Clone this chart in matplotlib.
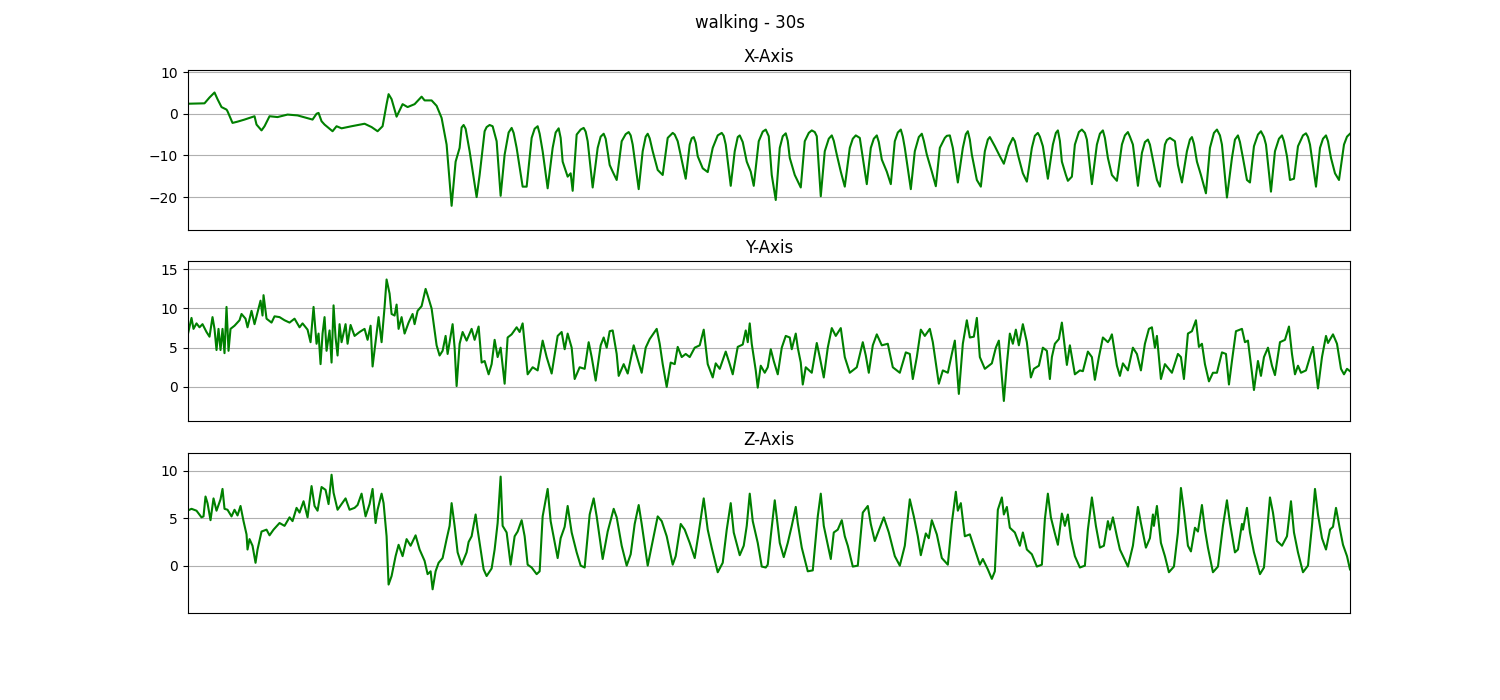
import matplotlib
matplotlib.use("Agg")
import matplotlib.pyplot as plt

title = "walking - 30s"
axis_titles = ["X-Axis", "Y-Axis", "Z-Axis"]
n_samples = 1162

# (sample index, acceleration)
x_axis = [(0,2.4),(17,2.5),(22,3.9),(27,5.1),(30,3.5),(34,1.6),(39,1.0),(40,0.6),(45,-2.2),(50,-1.9),(57,-1.4),(67,-0.6),(69,-2.6),(74,-4.0),(77,-3.0),(82,-0.6),(90,-0.8),(100,-0.2),(110,-0.4),(119,-1.0),(125,-1.4),(129,0.0),(131,0.2),(134,-1.8),(137,-2.6),(145,-4.2),(149,-3.0),(154,-3.5),(164,-3.0),(177,-2.4),(184,-3.2),(190,-4.2),(195,-3.0),(199,2.3),(201,4.7),(204,3.5),(209,-0.7),(215,2.3),(220,1.6),(227,2.3),(234,4.1),(237,3.2),(244,3.2),(249,1.9),(254,-1.0),(259,-7.4),(264,-22.1),(268,-11.5),(272,-8.2),(274,-3.3),(276,-2.7),(278,-3.6),(282,-9.0),(289,-20.0),(292,-14.7),(297,-4.2),(299,-3.2),(302,-2.7),(305,-3.0),(309,-6.6),(313,-19.7),(317,-9.8),(321,-4.5),(324,-3.4),(326,-4.6),(329,-8.2),(335,-17.5),(339,-17.5),(344,-5.8),(347,-3.6),(350,-3.0),(352,-4.8),(355,-9.0),(360,-17.9),(365,-8.2),(368,-4.5),(371,-3.5),(373,-5.8),(375,-11.5),(380,-15.1),(383,-14.3),(385,-18.5),(389,-5.0),(393,-3.8),(396,-3.4),(398,-4.3),(400,-6.6),(405,-17.7),(410,-8.2),(413,-5.5),(416,-4.8),(418,-6.0),(422,-12.3),(425,-13.9),(429,-15.9),(434,-6.6),(438,-4.9),(441,-4.4),(443,-5.2),(445,-7.4),(451,-18.1),(455,-9.0),(458,-5.5),(460,-4.8),(462,-5.9),(465,-9.0),(470,-13.5),(475,-14.7),(480,-5.8),(485,-4.6),(487,-5.0),(490,-6.6),(498,-15.6),(502,-7.4),(504,-5.9),(506,-5.6),(508,-7.0),(510,-10.2),(515,-13.1),(520,-14.0),(525,-8.2),(530,-5.2),(534,-4.6),(536,-5.3),(538,-7.4),(543,-17.3),(547,-9.0),(550,-5.6),(552,-5.2),(555,-6.8),(559,-11.5),(563,-13.9),(566,-17.3),(571,-6.6),(575,-4.3),(578,-3.8),(581,-5.4),(584,-14.7),(588,-20.7),(592,-8.2),(595,-5.4),(598,-4.7),(600,-6.5),(602,-10.6),(607,-14.7),(613,-17.7),(617,-6.6),(621,-4.6),(624,-4.0),(627,-4.4),(629,-5.4),(633,-19.8),(637,-9.0),(641,-6.0),(644,-5.2),(646,-6.5),(649,-9.8),(653,-13.9),(657,-17.5),(662,-8.2),(665,-6.0),(668,-5.2),(672,-5.8),(679,-16.9),(683,-8.2),(686,-6.0),(689,-5.2),(691,-6.8),(694,-11.0),(699,-13.9),(703,-16.9),(707,-6.6),(710,-4.5),(713,-3.8),(715,-5.5),(717,-8.2),(723,-18.1),(727,-9.0),(731,-5.6),(734,-4.8),(736,-6.5),(739,-9.8),(744,-13.9),(748,-17.4),(752,-8.2),(757,-5.8),(759,-5.3),(762,-5.2),(765,-8.2),(770,-16.5),(775,-8.2),(778,-4.9),(780,-4.2),(782,-6.2),(784,-9.8),(789,-15.9),(793,-17.5),(797,-9.0),(800,-6.2),(802,-5.6),(807,-7.8),(812,-10.2),(816,-12.0),(821,-7.8),(825,-5.8),(827,-6.6),(830,-9.8),(835,-14.3),(839,-16.3),(844,-8.2),(847,-5.3),(850,-4.6),(852,-5.5),(855,-7.8),(860,-15.6),(865,-7.4),(868,-4.6),(870,-4.0),(872,-6.5),(874,-11.5),(878,-14.7),(880,-16.1),(884,-15.1),(887,-7.4),(891,-4.4),(894,-3.8),(897,-4.6),(899,-6.2),(904,-16.9),(909,-7.4),(912,-4.8),(915,-4.0),(917,-5.8),(920,-10.6),(924,-14.7),(929,-16.1),(934,-7.4),(937,-5.2),(940,-4.4),(942,-5.5),(945,-7.4),(950,-17.3),(954,-9.4),(957,-6.8),(960,-6.2),(962,-7.4),(965,-11.0),(969,-15.9),(972,-17.5),(977,-7.4),(979,-6.3),(982,-5.8),(987,-6.6),(990,-12.3),(994,-16.5),(999,-9.0),(1002,-6.2),(1004,-5.6),(1006,-7.2),(1009,-11.5),(1013,-14.7),(1018,-19.1),(1022,-8.2),(1026,-4.6),(1029,-3.8),(1032,-5.2),(1034,-7.4),(1039,-20.1),(1044,-10.6),(1047,-6.2),(1050,-5.2),(1052,-6.8),(1055,-10.6),(1059,-15.9),(1062,-16.5),(1066,-7.8),(1070,-5.0),(1073,-4.2),(1076,-5.6),(1078,-7.4),(1083,-18.7),(1087,-9.0),(1091,-6.0),(1094,-5.2),(1096,-6.6),(1099,-10.2),(1102,-15.9),(1106,-15.6),(1110,-7.8),(1115,-5.2),(1118,-4.7),(1120,-5.6),(1122,-7.4),(1128,-17.5),(1132,-8.2),(1135,-6.0),(1138,-5.2),(1140,-6.6),(1143,-10.6),(1147,-14.3),(1151,-15.9),(1156,-7.4),(1159,-5.5),(1162,-4.8)]

y_axis = [(0,6.5),(4,8.8),(6,7.4),(9,8.1),(12,7.6),(15,8.0),(19,7.0),(22,6.4),(25,8.9),(27,7.4),(29,4.7),(31,7.4),(33,4.7),(35,7.4),(37,4.3),(39,10.2),(41,4.6),(43,7.4),(47,7.8),(52,8.5),(54,9.3),(58,8.7),(60,7.6),(64,9.7),(67,8.0),(70,9.5),(73,11.0),(75,9.1),(76,11.7),(79,8.7),(84,8.2),(87,9.0),(92,8.9),(97,8.5),(102,8.2),(107,8.7),(112,7.6),(115,8.1),(120,7.3),(123,5.7),(126,10.2),(129,5.5),(131,6.8),(133,2.9),(135,6.8),(137,8.9),(139,4.6),(142,7.2),(144,3.1),(146,10.4),(148,6.3),(150,4.0),(152,8.0),(154,5.7),(158,8.0),(160,5.5),(163,7.9),(167,6.5),(172,7.0),(177,7.4),(180,6.0),(183,7.8),(185,2.6),(189,6.8),(191,8.9),(194,5.7),(197,10.2),(199,13.7),(202,11.9),(204,9.3),(207,9.1),(209,10.5),(211,7.4),(214,8.9),(217,6.8),(221,8.2),(225,9.3),(227,8.0),(230,9.7),(234,10.3),(238,12.5),(240,11.7),(244,10.0),(249,5.3),(252,4.0),(255,4.6),(258,6.5),(260,4.2),(265,8.0),(267,5.0),(269,0.1),(272,5.5),(275,7.0),(279,5.9),(284,7.4),(287,6.0),(291,7.7),(294,3.1),(297,3.3),(301,1.6),(304,2.9),(307,6.0),(310,3.8),(313,5.0),(317,0.4),(320,6.3),(324,6.7),(329,7.6),(332,7.0),(335,8.1),(340,1.6),(345,2.5),(350,2.1),(355,5.9),(359,3.8),(364,1.7),(370,6.5),(374,7.0),(377,4.8),(380,6.8),(384,5.0),(387,1.0),(392,2.5),(397,2.3),(401,5.7),(404,3.8),(408,0.8),(413,5.3),(416,6.3),(419,5.0),(422,7.1),(425,7.2),(429,4.2),(431,1.4),(436,2.9),(440,1.7),(446,5.3),(450,3.5),(454,1.8),(458,5.0),(462,6.1),(469,7.4),(472,5.5),(475,2.9),(479,0.0),(483,3.1),(487,2.9),(490,5.1),(494,3.8),(498,4.2),(502,3.8),(507,5.0),(512,5.3),(516,7.3),(520,2.9),(525,1.2),(528,3.0),(532,2.3),(538,4.5),(542,2.9),(545,1.6),(550,5.1),(555,5.4),(558,7.2),(560,5.7),(562,8.1),(564,5.5),(568,2.1),(570,-0.1),(573,2.7),(577,1.8),(580,2.5),(583,4.8),(586,3.3),(590,1.6),(594,5.0),(598,6.5),(602,6.3),(604,4.8),(608,6.8),(610,5.0),(613,3.1),(615,0.3),(618,2.5),(624,1.8),(629,5.6),(632,3.8),(636,1.2),(640,5.0),(644,7.5),(648,6.5),(653,7.5),(657,3.8),(662,1.8),(669,2.5),(675,5.7),(678,4.0),(681,1.8),(685,5.3),(689,6.7),(694,5.3),(700,5.5),(705,2.5),(712,1.8),(718,4.4),(722,4.2),(725,1.0),(729,3.8),(733,7.3),(737,6.5),(742,7.4),(745,5.7),(751,0.4),(755,2.1),(760,1.8),(764,4.2),(767,5.9),(771,-0.9),(775,5.5),(779,8.5),(782,6.3),(786,6.4),(789,8.8),(792,3.8),(797,2.3),(804,3.0),(808,5.0),(811,5.9),(816,-1.8),(819,2.9),(822,6.8),(825,5.5),(828,7.3),(831,5.3),(835,8.0),(839,5.7),(843,1.2),(846,2.3),(851,2.7),(855,5.0),(859,4.6),(862,1.0),(864,3.8),(867,5.5),(871,6.1),(874,8.2),(877,5.0),(879,2.8),(882,5.3),(887,1.6),(892,2.1),(895,2.0),(900,4.5),(904,3.8),(907,0.9),(911,3.8),(915,6.3),(920,5.7),(922,6.1),(924,6.7),(929,2.7),(932,1.4),(935,3.0),(940,2.1),(945,5.0),(949,4.2),(953,2.1),(957,5.5),(961,7.4),(964,7.6),(967,5.0),(969,6.5),(973,1.0),(977,2.9),(984,1.8),(990,4.2),(993,3.8),(996,1.0),(1000,6.8),(1004,7.1),(1008,8.5),(1011,5.1),(1014,5.5),(1017,2.9),(1021,0.7),(1025,1.8),(1029,1.8),(1034,4.4),(1038,4.2),(1041,0.3),(1044,3.3),(1048,7.1),(1054,7.4),(1057,5.7),(1060,5.9),(1064,1.8),(1066,-0.4),(1070,3.3),(1073,1.4),(1076,3.8),(1080,5.0),(1084,2.7),(1087,1.5),(1092,5.7),(1097,6.0),(1101,7.7),(1104,4.2),(1107,1.6),(1110,2.7),(1113,1.8),(1118,2.1),(1122,3.8),(1125,5.1),(1130,-0.2),(1134,3.8),(1138,6.5),(1140,5.6),(1145,6.7),(1149,5.5),(1153,2.3),(1156,1.6),(1159,2.3),(1162,2.0)]

z_axis = [(0,5.8),(4,6.0),(9,5.8),(14,5.1),(16,5.2),(18,7.3),(20,6.6),(23,4.8),(26,7.1),(29,5.8),(33,7.0),(35,8.1),(37,6.0),(40,5.9),(44,5.2),(47,5.9),(50,5.3),(53,6.3),(56,4.7),(59,3.3),(60,1.7),(62,2.8),(65,2.1),(68,0.3),(70,1.7),(74,3.6),(79,3.8),(82,3.2),(86,3.8),(92,4.5),(97,4.2),(102,5.1),(105,4.7),(109,6.1),(112,5.6),(116,6.8),(120,5.1),(124,8.4),(127,6.3),(130,5.8),(134,8.3),(138,8.0),(141,6.5),(144,9.6),(146,7.7),(150,5.9),(154,6.5),(158,7.1),(162,5.9),(167,6.1),(170,6.4),(174,7.6),(178,5.2),(182,6.5),(185,8.1),(188,4.5),(190,5.9),(194,7.6),(196,6.6),(199,3.1),(201,-2.0),(204,-1.1),(208,1.0),(211,2.2),(215,1.0),(219,2.8),(223,2.1),(228,3.2),(232,1.7),(237,0.5),(240,-0.9),(243,-0.6),(245,-2.5),(248,-0.6),(251,0.3),(255,0.8),(259,2.8),(262,4.2),(264,6.6),(267,4.2),(270,1.4),(274,0.1),(279,1.4),(281,2.5),(284,3.1),(288,5.4),(290,3.8),(293,1.7),(296,-0.4),(299,-1.1),(304,-0.3),(307,1.7),(310,4.5),(313,9.4),(315,4.2),(319,3.5),(323,0.1),(327,3.1),(330,3.6),(334,4.8),(337,3.1),(340,0.1),(344,-0.2),(349,-0.9),(352,-0.6),(355,5.2),(360,8.1),(363,4.7),(370,0.8),(373,2.9),(377,4.1),(380,6.3),(384,3.5),(389,1.4),(393,0.0),(397,-0.2),(402,5.4),(406,7.1),(409,5.2),(415,0.7),(420,3.6),(426,6.0),(429,5.1),(434,2.1),(439,0.0),(443,1.2),(447,4.4),(451,6.4),(454,4.4),(460,0.0),(464,2.1),(470,5.2),(474,4.7),(479,3.1),(485,0.1),(488,1.0),(493,4.4),(497,3.8),(502,2.4),(507,0.8),(511,3.5),(516,7.1),(520,3.8),(524,1.9),(530,-0.7),(535,0.3),(539,3.8),(543,6.6),(546,3.5),(552,1.1),(556,2.1),(559,4.2),(562,7.6),(565,4.7),(570,2.4),(574,-0.1),(578,-0.2),(580,0.1),(583,3.1),(587,6.9),(592,2.4),(596,0.9),(600,2.4),(604,4.2),(608,6.2),(610,4.5),(614,1.9),(620,-0.6),(625,-0.5),(630,5.2),(633,7.6),(636,4.2),(643,0.7),(646,3.5),(650,3.8),(654,4.8),(657,3.1),(660,2.1),(665,-0.1),(670,0.0),(675,5.6),(680,6.3),(683,4.4),(687,2.6),(692,4.0),(696,5.1),(701,3.5),(707,1.0),(712,0.0),(717,2.1),(722,7.0),(726,5.2),(730,3.1),(733,1.1),(738,3.4),(741,2.9),(744,4.8),(749,3.3),(754,0.8),(760,0.1),(764,4.5),(768,7.8),(770,5.8),(773,6.6),(777,3.1),(782,3.3),(787,1.7),(792,0.1),(795,0.7),(800,-0.4),(804,-1.4),(807,-0.6),(810,5.9),(814,7.2),(816,5.4),(819,6.2),(822,4.0),(827,3.5),(832,2.1),(835,3.5),(839,1.7),(844,1.2),(849,-0.1),(854,0.1),(857,4.9),(860,7.6),(863,5.1),(867,3.4),(870,2.2),(874,5.5),(877,4.2),(880,5.4),(883,2.9),(887,1.0),(892,-0.2),(897,0.0),(900,3.8),(904,7.2),(908,4.2),(912,1.9),(916,2.1),(920,4.7),(922,3.8),(925,5.1),(929,3.1),(932,1.7),(940,-0.1),(945,2.1),(950,6.2),(953,4.5),(958,1.9),(962,2.9),(965,5.4),(966,4.2),(969,6.3),(973,2.4),(977,1.0),(981,-0.7),(986,-0.1),(990,3.5),(993,8.2),(996,5.8),(1000,2.1),(1003,1.5),(1007,4.0),(1010,3.6),(1014,6.4),(1017,3.8),(1020,1.9),(1025,-0.7),(1030,-0.1),(1035,4.2),(1039,6.9),(1042,4.5),(1047,1.4),(1050,1.7),(1054,4.4),(1055,3.8),(1059,6.1),(1062,3.5),(1066,1.4),(1072,-0.9),(1076,-0.2),(1079,3.5),(1082,7.2),(1085,5.6),(1089,2.6),(1094,2.1),(1099,3.1),(1103,6.8),(1106,3.5),(1110,1.4),(1115,-0.7),(1120,0.0),(1124,4.2),(1127,8.1),(1130,5.4),(1134,2.9),(1138,1.7),(1142,3.8),(1145,4.1),(1148,6.1),(1152,3.8),(1155,2.2),(1159,1.0),(1162,-0.4)]

y_limits = [(-27.8, 10.5), (-4.36, 16.0), (-4.95, 11.9)]

series = [x_axis, y_axis, z_axis]

fig, axes = plt.subplots(3, 1, figsize=(15, 7), dpi=100)
fig.subplots_adjust(left=0.125, right=0.9, top=0.9, bottom=0.125, hspace=0.2)
fig.suptitle(title, fontsize=12)

for ax, data, name, lim in zip(axes, series, axis_titles, y_limits):
    pts = sorted(data)
    t = [p[0] for p in pts]
    v = [p[1] for p in pts]
    ax.plot(t, v, color="green", linewidth=1.5)
    ax.set_title(name)
    ax.set_xlim(0, n_samples)
    ax.set_ylim(*lim)
    ax.set_xticks([])
    ax.grid(axis="y")

fig.savefig("out.png", dpi=100)
